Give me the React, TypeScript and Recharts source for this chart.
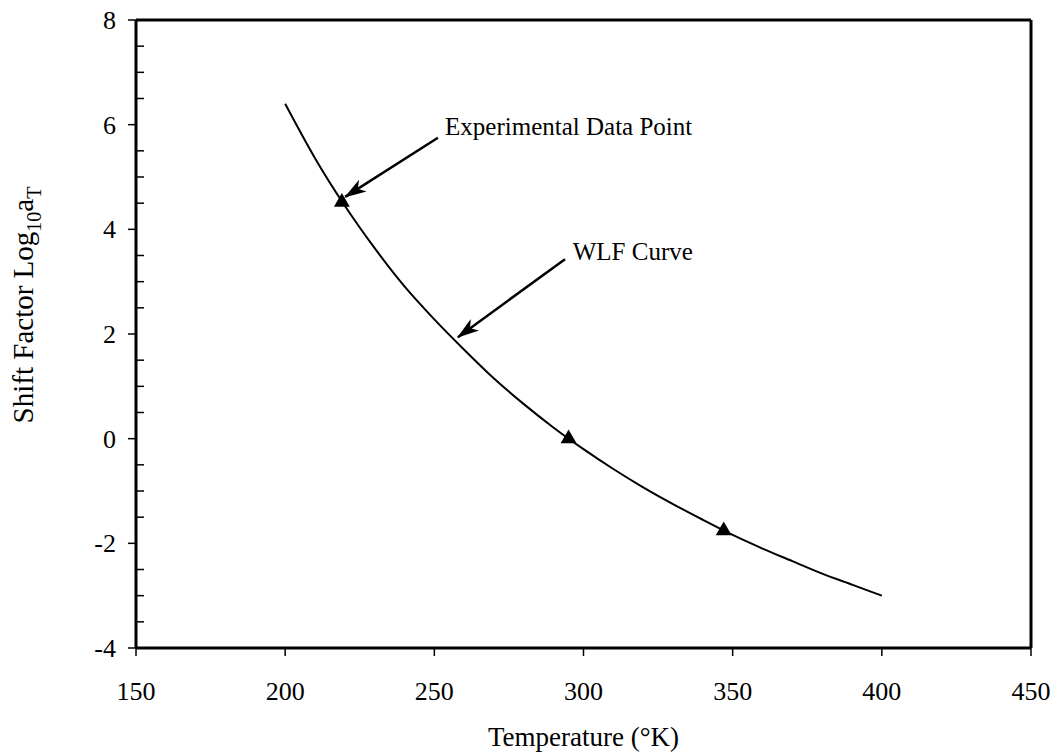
import {
  ComposedChart,
  Line,
  ReferenceDot,
  ReferenceLine,
  Scatter,
  XAxis,
  YAxis,
  ZAxis,
} from 'recharts';

// WLF curve
const curveTemps = [200, 210, 220, 230, 240, 250, 260, 270, 280, 290, 300, 310, 320, 330, 340, 350, 360, 370, 380, 390, 400];
const curveShift = [6.4, 5.36, 4.45, 3.64, 2.91, 2.28, 1.7, 1.15, 0.66, 0.21, -0.2, -0.58, -0.93, -1.25, -1.55, -1.84, -2.1, -2.34, -2.58, -2.79, -3.0];

// experimental points (triangles)
const expTemps = [219, 295, 347];
const expShift = [4.52, 0.0, -1.76];

const xTicks = [150, 200, 250, 300, 350, 400, 450];
const yMajorTicks = [-4, -2, 0, 2, 4, 6, 8];
const yMinorTicks = [-3.5, -3, -2.5, -1.5, -1, -0.5, 0.5, 1, 1.5, 2.5, 3, 3.5, 4.5, 5, 5.5, 6.5, 7, 7.5];
const yAllTicks = [...yMajorTicks, ...yMinorTicks].sort((a, b) => a - b);

// annotation arrows: [fromT, fromV, toT, toV]
const arrowExp = [251.2, 5.75, 220.1, 4.62];
const arrowWlf = [293.8, 3.43, 257.9, 1.94];

const curve = curveTemps.map((t, i) => ({ t, v: curveShift[i] }));
const points = expTemps.map((t, i) => ({ t, v: expShift[i] }));

const FONT = '"Liberation Serif", "Times New Roman", serif';

const arrowShape = (p: any) => (
  <line
    x1={p.x1}
    y1={p.y1}
    x2={p.x2}
    y2={p.y2}
    stroke="#000"
    strokeWidth={2.5}
    markerEnd="url(#arrowHead)"
  />
);

const noteText = (value: string) => (p: any) => (
  <text x={p.cx} y={p.cy} fill="#000" fontSize={25} fontFamily={FONT}>
    {value}
  </text>
);

// majors: outward tick + label, minors: short inward tick only
const YTick = (p: any) => {
  const v = p.payload.value;
  if (!yMajorTicks.includes(v)) {
    return <line x1={p.x} y1={p.y} x2={p.x + 8} y2={p.y} stroke="#000" strokeWidth={1.5} />;
  }
  return (
    <g>
      <line x1={p.x - 8} y1={p.y} x2={p.x} y2={p.y} stroke="#000" strokeWidth={1.5} />
      <text x={p.x - 20} y={p.y} dy="0.35em" textAnchor="end" fill="#000" fontSize={26} fontFamily={FONT}>
        {v}
      </text>
    </g>
  );
};

const YLabel = (props: any) => {
  const vb = props.viewBox || { x: 0, y: 0, height: 0 };
  const cx = vb.x + 25;
  const cy = vb.y + vb.height / 2 - 29;
  return (
    <text
      transform={`translate(${cx},${cy}) rotate(-90)`}
      textAnchor="middle"
      fill="#000"
      fontSize={29}
      fontFamily={FONT}
    >
      <tspan>Shift Factor Log</tspan>
      <tspan dy={8} fontSize={20}>10</tspan>
      <tspan dy={-8}>a</tspan>
      <tspan dy={8} fontSize={20}>T</tspan>
    </text>
  );
};

export default function App() {
  return (
    <div style={{ position: 'absolute', left: 0, top: 0, background: '#fff' }}>
      <ComposedChart
        width={1058}
        height={756}
        margin={{ top: 20, right: 27, left: 8, bottom: 0 }}
        style={{ fontFamily: FONT }}
      >
        <defs>
          <marker
            id="arrowHead"
            viewBox="0 0 22 14"
            refX={21}
            refY={7}
            markerWidth={22}
            markerHeight={14}
            markerUnits="userSpaceOnUse"
            orient="auto"
          >
            <path d="M0,0 L22,7 L0,14 L6,7 z" fill="#000" />
          </marker>
        </defs>
        <XAxis
          dataKey="t"
          type="number"
          domain={[150, 450]}
          ticks={xTicks}
          interval={0}
          allowDataOverflow
          height={108}
          tickSize={8}
          tickMargin={26}
          axisLine={{ stroke: '#000', strokeWidth: 3 }}
          tickLine={{ stroke: '#000', strokeWidth: 1.5 }}
          tick={{ fill: '#000', fontSize: 26, fontFamily: FONT }}
          label={{
            value: 'Temperature (°K)',
            position: 'insideBottom',
            offset: 10,
            fill: '#000',
            fontSize: 27,
            fontFamily: FONT,
          }}
        />
        <YAxis
          yAxisId="main"
          dataKey="v"
          type="number"
          domain={[-4, 8]}
          ticks={yAllTicks}
          interval={0}
          allowDataOverflow
          width={128}
          tickSize={0}
          tickMargin={0}
          axisLine={{ stroke: '#000', strokeWidth: 3 }}
          tickLine={false}
          tick={YTick}
          label={<YLabel />}
        />
        <ZAxis range={[110, 110]} />
        <ReferenceLine yAxisId="main" y={8} stroke="#000" strokeWidth={3} />
        <ReferenceLine yAxisId="main" x={450} stroke="#000" strokeWidth={3} />
        <Line
          yAxisId="main"
          data={curve}
          dataKey="v"
          type="monotone"
          stroke="#000"
          strokeWidth={2}
          dot={false}
          activeDot={false}
          isAnimationActive={false}
        />
        <Scatter
          yAxisId="main"
          data={points}
          dataKey="v"
          shape="triangle"
          fill="#000"
          isAnimationActive={false}
        />
        <ReferenceLine
          yAxisId="main"
          segment={[
            { x: arrowExp[0], y: arrowExp[1] },
            { x: arrowExp[2], y: arrowExp[3] },
          ]}
          shape={arrowShape}
        />
        <ReferenceLine
          yAxisId="main"
          segment={[
            { x: arrowWlf[0], y: arrowWlf[1] },
            { x: arrowWlf[2], y: arrowWlf[3] },
          ]}
          shape={arrowShape}
        />
        <ReferenceDot yAxisId="main" x={253.6} y={5.8} r={0} shape={noteText('Experimental Data Point')} />
        <ReferenceDot yAxisId="main" x={296.4} y={3.41} r={0} shape={noteText('WLF Curve')} />
      </ComposedChart>
    </div>
  );
}
